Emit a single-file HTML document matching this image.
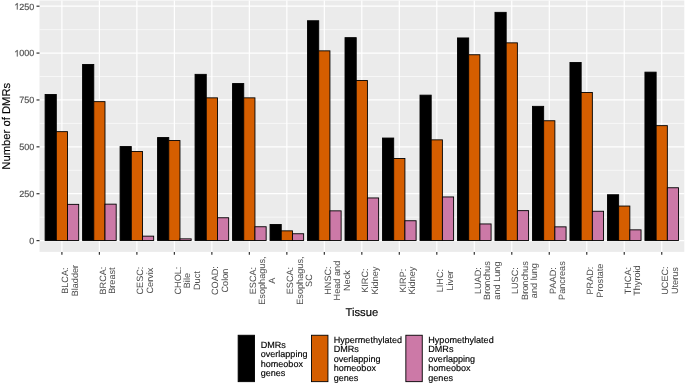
<!DOCTYPE html><html><head><meta charset="utf-8"><style>html,body{margin:0;padding:0;background:#fff;}svg{display:block;will-change:transform;}text{font-family:"Liberation Sans",sans-serif;stroke-width:0.15;text-rendering:geometricPrecision;}</style></head><body>
<svg width="685" height="384" viewBox="0 0 685 384">
<rect x="0" y="0" width="685" height="384" fill="#ffffff"/>
<rect x="39.5" y="0.5" width="644.8" height="251.4" fill="#EBEBEB"/>
<line x1="39.5" x2="684.3" y1="217.16" y2="217.16" stroke="#fff" stroke-width="0.6"/>
<line x1="39.5" x2="684.3" y1="170.28" y2="170.28" stroke="#fff" stroke-width="0.6"/>
<line x1="39.5" x2="684.3" y1="123.4" y2="123.4" stroke="#fff" stroke-width="0.6"/>
<line x1="39.5" x2="684.3" y1="76.52" y2="76.52" stroke="#fff" stroke-width="0.6"/>
<line x1="39.5" x2="684.3" y1="29.64" y2="29.64" stroke="#fff" stroke-width="0.6"/>
<line x1="39.5" x2="684.3" y1="240.6" y2="240.6" stroke="#fff" stroke-width="1.2"/>
<line x1="39.5" x2="684.3" y1="193.72" y2="193.72" stroke="#fff" stroke-width="1.2"/>
<line x1="39.5" x2="684.3" y1="146.84" y2="146.84" stroke="#fff" stroke-width="1.2"/>
<line x1="39.5" x2="684.3" y1="99.96" y2="99.96" stroke="#fff" stroke-width="1.2"/>
<line x1="39.5" x2="684.3" y1="53.08" y2="53.08" stroke="#fff" stroke-width="1.2"/>
<line x1="39.5" x2="684.3" y1="6.2" y2="6.2" stroke="#fff" stroke-width="1.2"/>
<line x1="61.9" x2="61.9" y1="0.5" y2="251.9" stroke="#fff" stroke-width="1.2"/>
<line x1="99.39" x2="99.39" y1="0.5" y2="251.9" stroke="#fff" stroke-width="1.2"/>
<line x1="136.88" x2="136.88" y1="0.5" y2="251.9" stroke="#fff" stroke-width="1.2"/>
<line x1="174.37" x2="174.37" y1="0.5" y2="251.9" stroke="#fff" stroke-width="1.2"/>
<line x1="211.86" x2="211.86" y1="0.5" y2="251.9" stroke="#fff" stroke-width="1.2"/>
<line x1="249.35" x2="249.35" y1="0.5" y2="251.9" stroke="#fff" stroke-width="1.2"/>
<line x1="286.84" x2="286.84" y1="0.5" y2="251.9" stroke="#fff" stroke-width="1.2"/>
<line x1="324.33" x2="324.33" y1="0.5" y2="251.9" stroke="#fff" stroke-width="1.2"/>
<line x1="361.82" x2="361.82" y1="0.5" y2="251.9" stroke="#fff" stroke-width="1.2"/>
<line x1="399.31" x2="399.31" y1="0.5" y2="251.9" stroke="#fff" stroke-width="1.2"/>
<line x1="436.8" x2="436.8" y1="0.5" y2="251.9" stroke="#fff" stroke-width="1.2"/>
<line x1="474.29" x2="474.29" y1="0.5" y2="251.9" stroke="#fff" stroke-width="1.2"/>
<line x1="511.78" x2="511.78" y1="0.5" y2="251.9" stroke="#fff" stroke-width="1.2"/>
<line x1="549.27" x2="549.27" y1="0.5" y2="251.9" stroke="#fff" stroke-width="1.2"/>
<line x1="586.76" x2="586.76" y1="0.5" y2="251.9" stroke="#fff" stroke-width="1.2"/>
<line x1="624.25" x2="624.25" y1="0.5" y2="251.9" stroke="#fff" stroke-width="1.2"/>
<line x1="661.74" x2="661.74" y1="0.5" y2="251.9" stroke="#fff" stroke-width="1.2"/>
<rect x="45.1" y="94.45" width="11.2" height="146" fill="#000000" stroke="#000000" stroke-width="0.9"/>
<rect x="56.3" y="131.65" width="11.2" height="108.8" fill="#D55E00" stroke="#000000" stroke-width="0.9"/>
<rect x="67.5" y="204.35" width="11.2" height="36.1" fill="#CC79A7" stroke="#000000" stroke-width="0.9"/>
<rect x="82.59" y="64.45" width="11.2" height="176" fill="#000000" stroke="#000000" stroke-width="0.9"/>
<rect x="93.79" y="101.65" width="11.2" height="138.8" fill="#D55E00" stroke="#000000" stroke-width="0.9"/>
<rect x="104.99" y="204.15" width="11.2" height="36.3" fill="#CC79A7" stroke="#000000" stroke-width="0.9"/>
<rect x="120.08" y="146.55" width="11.2" height="93.9" fill="#000000" stroke="#000000" stroke-width="0.9"/>
<rect x="131.28" y="151.45" width="11.2" height="89" fill="#D55E00" stroke="#000000" stroke-width="0.9"/>
<rect x="142.48" y="236.15" width="11.2" height="4.3" fill="#CC79A7" stroke="#000000" stroke-width="0.9"/>
<rect x="157.57" y="137.55" width="11.2" height="102.9" fill="#000000" stroke="#000000" stroke-width="0.9"/>
<rect x="168.77" y="140.55" width="11.2" height="99.9" fill="#D55E00" stroke="#000000" stroke-width="0.9"/>
<rect x="179.97" y="238.85" width="11.2" height="1.6" fill="#CC79A7" stroke="#000000" stroke-width="0.9"/>
<rect x="195.06" y="74.35" width="11.2" height="166.1" fill="#000000" stroke="#000000" stroke-width="0.9"/>
<rect x="206.26" y="97.85" width="11.2" height="142.6" fill="#D55E00" stroke="#000000" stroke-width="0.9"/>
<rect x="217.46" y="217.75" width="11.2" height="22.7" fill="#CC79A7" stroke="#000000" stroke-width="0.9"/>
<rect x="232.55" y="83.55" width="11.2" height="156.9" fill="#000000" stroke="#000000" stroke-width="0.9"/>
<rect x="243.75" y="97.85" width="11.2" height="142.6" fill="#D55E00" stroke="#000000" stroke-width="0.9"/>
<rect x="254.95" y="226.75" width="11.2" height="13.7" fill="#CC79A7" stroke="#000000" stroke-width="0.9"/>
<rect x="270.04" y="224.45" width="11.2" height="16" fill="#000000" stroke="#000000" stroke-width="0.9"/>
<rect x="281.24" y="230.85" width="11.2" height="9.6" fill="#D55E00" stroke="#000000" stroke-width="0.9"/>
<rect x="292.44" y="233.75" width="11.2" height="6.7" fill="#CC79A7" stroke="#000000" stroke-width="0.9"/>
<rect x="307.53" y="20.75" width="11.2" height="219.7" fill="#000000" stroke="#000000" stroke-width="0.9"/>
<rect x="318.73" y="50.85" width="11.2" height="189.6" fill="#D55E00" stroke="#000000" stroke-width="0.9"/>
<rect x="329.93" y="210.85" width="11.2" height="29.6" fill="#CC79A7" stroke="#000000" stroke-width="0.9"/>
<rect x="345.02" y="37.65" width="11.2" height="202.8" fill="#000000" stroke="#000000" stroke-width="0.9"/>
<rect x="356.22" y="80.55" width="11.2" height="159.9" fill="#D55E00" stroke="#000000" stroke-width="0.9"/>
<rect x="367.42" y="197.95" width="11.2" height="42.5" fill="#CC79A7" stroke="#000000" stroke-width="0.9"/>
<rect x="382.51" y="138.05" width="11.2" height="102.4" fill="#000000" stroke="#000000" stroke-width="0.9"/>
<rect x="393.71" y="158.45" width="11.2" height="82" fill="#D55E00" stroke="#000000" stroke-width="0.9"/>
<rect x="404.91" y="220.75" width="11.2" height="19.7" fill="#CC79A7" stroke="#000000" stroke-width="0.9"/>
<rect x="420" y="95.15" width="11.2" height="145.3" fill="#000000" stroke="#000000" stroke-width="0.9"/>
<rect x="431.2" y="139.85" width="11.2" height="100.6" fill="#D55E00" stroke="#000000" stroke-width="0.9"/>
<rect x="442.4" y="196.95" width="11.2" height="43.5" fill="#CC79A7" stroke="#000000" stroke-width="0.9"/>
<rect x="457.49" y="37.95" width="11.2" height="202.5" fill="#000000" stroke="#000000" stroke-width="0.9"/>
<rect x="468.69" y="54.75" width="11.2" height="185.7" fill="#D55E00" stroke="#000000" stroke-width="0.9"/>
<rect x="479.89" y="223.95" width="11.2" height="16.5" fill="#CC79A7" stroke="#000000" stroke-width="0.9"/>
<rect x="494.98" y="12.35" width="11.2" height="228.1" fill="#000000" stroke="#000000" stroke-width="0.9"/>
<rect x="506.18" y="42.85" width="11.2" height="197.6" fill="#D55E00" stroke="#000000" stroke-width="0.9"/>
<rect x="517.38" y="210.65" width="11.2" height="29.8" fill="#CC79A7" stroke="#000000" stroke-width="0.9"/>
<rect x="532.47" y="106.35" width="11.2" height="134.1" fill="#000000" stroke="#000000" stroke-width="0.9"/>
<rect x="543.67" y="120.75" width="11.2" height="119.7" fill="#D55E00" stroke="#000000" stroke-width="0.9"/>
<rect x="554.87" y="226.85" width="11.2" height="13.6" fill="#CC79A7" stroke="#000000" stroke-width="0.9"/>
<rect x="569.96" y="62.45" width="11.2" height="178" fill="#000000" stroke="#000000" stroke-width="0.9"/>
<rect x="581.16" y="92.45" width="11.2" height="148" fill="#D55E00" stroke="#000000" stroke-width="0.9"/>
<rect x="592.36" y="211.25" width="11.2" height="29.2" fill="#CC79A7" stroke="#000000" stroke-width="0.9"/>
<rect x="607.45" y="194.75" width="11.2" height="45.7" fill="#000000" stroke="#000000" stroke-width="0.9"/>
<rect x="618.65" y="206.05" width="11.2" height="34.4" fill="#D55E00" stroke="#000000" stroke-width="0.9"/>
<rect x="629.85" y="229.85" width="11.2" height="10.6" fill="#CC79A7" stroke="#000000" stroke-width="0.9"/>
<rect x="644.94" y="72.15" width="11.2" height="168.3" fill="#000000" stroke="#000000" stroke-width="0.9"/>
<rect x="656.14" y="125.65" width="11.2" height="114.8" fill="#D55E00" stroke="#000000" stroke-width="0.9"/>
<rect x="667.34" y="187.75" width="11.2" height="52.7" fill="#CC79A7" stroke="#000000" stroke-width="0.9"/>
<line x1="36.5" x2="39.5" y1="240.6" y2="240.6" stroke="#333333" stroke-width="1.2"/>
<text x="34.3" y="243.9" font-size="9.0" fill="#4D4D4D" stroke="#4D4D4D" text-anchor="end">0</text>
<line x1="36.5" x2="39.5" y1="193.72" y2="193.72" stroke="#333333" stroke-width="1.2"/>
<text x="34.3" y="197.02" font-size="9.0" fill="#4D4D4D" stroke="#4D4D4D" text-anchor="end">250</text>
<line x1="36.5" x2="39.5" y1="146.84" y2="146.84" stroke="#333333" stroke-width="1.2"/>
<text x="34.3" y="150.14" font-size="9.0" fill="#4D4D4D" stroke="#4D4D4D" text-anchor="end">500</text>
<line x1="36.5" x2="39.5" y1="99.96" y2="99.96" stroke="#333333" stroke-width="1.2"/>
<text x="34.3" y="103.26" font-size="9.0" fill="#4D4D4D" stroke="#4D4D4D" text-anchor="end">750</text>
<line x1="36.5" x2="39.5" y1="53.08" y2="53.08" stroke="#333333" stroke-width="1.2"/>
<path d="M17.64,56.38 L16.85,56.38 L16.85,51.34 L15.26,52.38 L15.26,51.62 L17.1,49.94 L17.64,49.94Z" fill="#4D4D4D" stroke="#4D4D4D" stroke-width="0.15"/>
<text x="34.3" y="56.38" font-size="9.0" fill="#4D4D4D" stroke="#4D4D4D" text-anchor="end">000</text>
<line x1="36.5" x2="39.5" y1="6.2" y2="6.2" stroke="#333333" stroke-width="1.2"/>
<path d="M17.64,9.5 L16.85,9.5 L16.85,4.46 L15.26,5.5 L15.26,4.74 L17.1,3.06 L17.64,3.06Z" fill="#4D4D4D" stroke="#4D4D4D" stroke-width="0.15"/>
<text x="34.3" y="9.5" font-size="9.0" fill="#4D4D4D" stroke="#4D4D4D" text-anchor="end">250</text>
<line x1="61.9" x2="61.9" y1="251.9" y2="254.7" stroke="#333333" stroke-width="1.2"/>
<text transform="translate(68.2,280.6) rotate(-90) scale(0.1)" font-size="91.5" fill="#4D4D4D" stroke="#4D4D4D" stroke-width="2.5" text-anchor="middle">BLCA:</text>
<text transform="translate(77.7,280.6) rotate(-90) scale(0.1)" font-size="91.5" fill="#4D4D4D" stroke="#4D4D4D" stroke-width="2.5" text-anchor="middle">Bladder</text>
<line x1="99.39" x2="99.39" y1="251.9" y2="254.7" stroke="#333333" stroke-width="1.2"/>
<text transform="translate(105.69,280.6) rotate(-90) scale(0.1)" font-size="91.5" fill="#4D4D4D" stroke="#4D4D4D" stroke-width="2.5" text-anchor="middle">BRCA:</text>
<text transform="translate(115.19,280.6) rotate(-90) scale(0.1)" font-size="91.5" fill="#4D4D4D" stroke="#4D4D4D" stroke-width="2.5" text-anchor="middle">Breast</text>
<line x1="136.88" x2="136.88" y1="251.9" y2="254.7" stroke="#333333" stroke-width="1.2"/>
<text transform="translate(143.18,280.6) rotate(-90) scale(0.1)" font-size="91.5" fill="#4D4D4D" stroke="#4D4D4D" stroke-width="2.5" text-anchor="middle">CESC:</text>
<text transform="translate(152.68,280.6) rotate(-90) scale(0.1)" font-size="91.5" fill="#4D4D4D" stroke="#4D4D4D" stroke-width="2.5" text-anchor="middle">Cervix</text>
<line x1="174.37" x2="174.37" y1="251.9" y2="254.7" stroke="#333333" stroke-width="1.2"/>
<text transform="translate(180.67,280.6) rotate(-90) scale(0.1)" font-size="91.5" fill="#4D4D4D" stroke="#4D4D4D" stroke-width="2.5" text-anchor="middle">CHOL:</text>
<text transform="translate(190.17,280.6) rotate(-90) scale(0.1)" font-size="91.5" fill="#4D4D4D" stroke="#4D4D4D" stroke-width="2.5" text-anchor="middle">Bile</text>
<text transform="translate(199.67,280.6) rotate(-90) scale(0.1)" font-size="91.5" fill="#4D4D4D" stroke="#4D4D4D" stroke-width="2.5" text-anchor="middle">Duct</text>
<line x1="211.86" x2="211.86" y1="251.9" y2="254.7" stroke="#333333" stroke-width="1.2"/>
<text transform="translate(218.16,280.6) rotate(-90) scale(0.1)" font-size="91.5" fill="#4D4D4D" stroke="#4D4D4D" stroke-width="2.5" text-anchor="middle">COAD:</text>
<text transform="translate(227.66,280.6) rotate(-90) scale(0.1)" font-size="91.5" fill="#4D4D4D" stroke="#4D4D4D" stroke-width="2.5" text-anchor="middle">Colon</text>
<line x1="249.35" x2="249.35" y1="251.9" y2="254.7" stroke="#333333" stroke-width="1.2"/>
<text transform="translate(255.65,280.6) rotate(-90) scale(0.1)" font-size="91.5" fill="#4D4D4D" stroke="#4D4D4D" stroke-width="2.5" text-anchor="middle">ESCA:</text>
<text transform="translate(265.15,280.6) rotate(-90) scale(0.1)" font-size="91.5" fill="#4D4D4D" stroke="#4D4D4D" stroke-width="2.5" text-anchor="middle">Esophagus,</text>
<text transform="translate(274.65,280.6) rotate(-90) scale(0.1)" font-size="91.5" fill="#4D4D4D" stroke="#4D4D4D" stroke-width="2.5" text-anchor="middle">A</text>
<line x1="286.84" x2="286.84" y1="251.9" y2="254.7" stroke="#333333" stroke-width="1.2"/>
<text transform="translate(293.14,280.6) rotate(-90) scale(0.1)" font-size="91.5" fill="#4D4D4D" stroke="#4D4D4D" stroke-width="2.5" text-anchor="middle">ESCA:</text>
<text transform="translate(302.64,280.6) rotate(-90) scale(0.1)" font-size="91.5" fill="#4D4D4D" stroke="#4D4D4D" stroke-width="2.5" text-anchor="middle">Esophagus,</text>
<text transform="translate(312.14,280.6) rotate(-90) scale(0.1)" font-size="91.5" fill="#4D4D4D" stroke="#4D4D4D" stroke-width="2.5" text-anchor="middle">SC</text>
<line x1="324.33" x2="324.33" y1="251.9" y2="254.7" stroke="#333333" stroke-width="1.2"/>
<text transform="translate(330.63,280.6) rotate(-90) scale(0.1)" font-size="91.5" fill="#4D4D4D" stroke="#4D4D4D" stroke-width="2.5" text-anchor="middle">HNSC:</text>
<text transform="translate(340.13,280.6) rotate(-90) scale(0.1)" font-size="91.5" fill="#4D4D4D" stroke="#4D4D4D" stroke-width="2.5" text-anchor="middle">Head and</text>
<text transform="translate(349.63,280.6) rotate(-90) scale(0.1)" font-size="91.5" fill="#4D4D4D" stroke="#4D4D4D" stroke-width="2.5" text-anchor="middle">Neck</text>
<line x1="361.82" x2="361.82" y1="251.9" y2="254.7" stroke="#333333" stroke-width="1.2"/>
<text transform="translate(368.12,280.6) rotate(-90) scale(0.1)" font-size="91.5" fill="#4D4D4D" stroke="#4D4D4D" stroke-width="2.5" text-anchor="middle">KIRC:</text>
<text transform="translate(377.62,280.6) rotate(-90) scale(0.1)" font-size="91.5" fill="#4D4D4D" stroke="#4D4D4D" stroke-width="2.5" text-anchor="middle">Kidney</text>
<line x1="399.31" x2="399.31" y1="251.9" y2="254.7" stroke="#333333" stroke-width="1.2"/>
<text transform="translate(405.61,280.6) rotate(-90) scale(0.1)" font-size="91.5" fill="#4D4D4D" stroke="#4D4D4D" stroke-width="2.5" text-anchor="middle">KIRP:</text>
<text transform="translate(415.11,280.6) rotate(-90) scale(0.1)" font-size="91.5" fill="#4D4D4D" stroke="#4D4D4D" stroke-width="2.5" text-anchor="middle">Kidney</text>
<line x1="436.8" x2="436.8" y1="251.9" y2="254.7" stroke="#333333" stroke-width="1.2"/>
<text transform="translate(443.1,280.6) rotate(-90) scale(0.1)" font-size="91.5" fill="#4D4D4D" stroke="#4D4D4D" stroke-width="2.5" text-anchor="middle">LIHC:</text>
<text transform="translate(452.6,280.6) rotate(-90) scale(0.1)" font-size="91.5" fill="#4D4D4D" stroke="#4D4D4D" stroke-width="2.5" text-anchor="middle">Liver</text>
<line x1="474.29" x2="474.29" y1="251.9" y2="254.7" stroke="#333333" stroke-width="1.2"/>
<text transform="translate(480.59,280.6) rotate(-90) scale(0.1)" font-size="91.5" fill="#4D4D4D" stroke="#4D4D4D" stroke-width="2.5" text-anchor="middle">LUAD:</text>
<text transform="translate(490.09,280.6) rotate(-90) scale(0.1)" font-size="91.5" fill="#4D4D4D" stroke="#4D4D4D" stroke-width="2.5" text-anchor="middle">Bronchus</text>
<text transform="translate(499.59,280.6) rotate(-90) scale(0.1)" font-size="91.5" fill="#4D4D4D" stroke="#4D4D4D" stroke-width="2.5" text-anchor="middle">and Lung</text>
<line x1="511.78" x2="511.78" y1="251.9" y2="254.7" stroke="#333333" stroke-width="1.2"/>
<text transform="translate(518.08,280.6) rotate(-90) scale(0.1)" font-size="91.5" fill="#4D4D4D" stroke="#4D4D4D" stroke-width="2.5" text-anchor="middle">LUSC:</text>
<text transform="translate(527.58,280.6) rotate(-90) scale(0.1)" font-size="91.5" fill="#4D4D4D" stroke="#4D4D4D" stroke-width="2.5" text-anchor="middle">Bronchus</text>
<text transform="translate(537.08,280.6) rotate(-90) scale(0.1)" font-size="91.5" fill="#4D4D4D" stroke="#4D4D4D" stroke-width="2.5" text-anchor="middle">and lung</text>
<line x1="549.27" x2="549.27" y1="251.9" y2="254.7" stroke="#333333" stroke-width="1.2"/>
<text transform="translate(555.57,280.6) rotate(-90) scale(0.1)" font-size="91.5" fill="#4D4D4D" stroke="#4D4D4D" stroke-width="2.5" text-anchor="middle">PAAD:</text>
<text transform="translate(565.07,280.6) rotate(-90) scale(0.1)" font-size="91.5" fill="#4D4D4D" stroke="#4D4D4D" stroke-width="2.5" text-anchor="middle">Pancreas</text>
<line x1="586.76" x2="586.76" y1="251.9" y2="254.7" stroke="#333333" stroke-width="1.2"/>
<text transform="translate(593.06,280.6) rotate(-90) scale(0.1)" font-size="91.5" fill="#4D4D4D" stroke="#4D4D4D" stroke-width="2.5" text-anchor="middle">PRAD:</text>
<text transform="translate(602.56,280.6) rotate(-90) scale(0.1)" font-size="91.5" fill="#4D4D4D" stroke="#4D4D4D" stroke-width="2.5" text-anchor="middle">Prostate</text>
<line x1="624.25" x2="624.25" y1="251.9" y2="254.7" stroke="#333333" stroke-width="1.2"/>
<text transform="translate(630.55,280.6) rotate(-90) scale(0.1)" font-size="91.5" fill="#4D4D4D" stroke="#4D4D4D" stroke-width="2.5" text-anchor="middle">THCA:</text>
<text transform="translate(640.05,280.6) rotate(-90) scale(0.1)" font-size="91.5" fill="#4D4D4D" stroke="#4D4D4D" stroke-width="2.5" text-anchor="middle">Thyroid</text>
<line x1="661.74" x2="661.74" y1="251.9" y2="254.7" stroke="#333333" stroke-width="1.2"/>
<text transform="translate(668.04,280.6) rotate(-90) scale(0.1)" font-size="91.5" fill="#4D4D4D" stroke="#4D4D4D" stroke-width="2.5" text-anchor="middle">UCEC:</text>
<text transform="translate(677.54,280.6) rotate(-90) scale(0.1)" font-size="91.5" fill="#4D4D4D" stroke="#4D4D4D" stroke-width="2.5" text-anchor="middle">Uterus</text>
<text x="361.9" y="315.6" font-size="11.25" fill="#000" stroke="#000" text-anchor="middle">Tissue</text>
<text transform="translate(9.5,126.25) rotate(-90)" font-size="11.25" fill="#000" stroke="#000" text-anchor="middle">Number of DMRs</text>
<rect x="238.15" y="335.25" width="16.4" height="46.4" fill="#000000" stroke="#000000" stroke-width="0.9"/>
<text x="260.7" y="347.58" font-size="9.05" fill="#000" stroke="#000">DMRs</text>
<text x="260.7" y="357.06" font-size="9.05" fill="#000" stroke="#000">overlapping</text>
<text x="260.7" y="366.54" font-size="9.05" fill="#000" stroke="#000">homeobox</text>
<text x="260.7" y="376.02" font-size="9.05" fill="#000" stroke="#000">genes</text>
<rect x="311.55" y="335.25" width="16.4" height="46.4" fill="#D55E00" stroke="#000000" stroke-width="0.9"/>
<text x="333.7" y="342.84" font-size="9.05" fill="#000" stroke="#000">Hypermethylated</text>
<text x="333.7" y="352.32" font-size="9.05" fill="#000" stroke="#000">DMRs</text>
<text x="333.7" y="361.8" font-size="9.05" fill="#000" stroke="#000">overlapping</text>
<text x="333.7" y="371.28" font-size="9.05" fill="#000" stroke="#000">homeobox</text>
<text x="333.7" y="380.76" font-size="9.05" fill="#000" stroke="#000">genes</text>
<rect x="405.85" y="335.25" width="16.4" height="46.4" fill="#CC79A7" stroke="#000000" stroke-width="0.9"/>
<text x="428.3" y="342.84" font-size="9.05" fill="#000" stroke="#000">Hypomethylated</text>
<text x="428.3" y="352.32" font-size="9.05" fill="#000" stroke="#000">DMRs</text>
<text x="428.3" y="361.8" font-size="9.05" fill="#000" stroke="#000">overlapping</text>
<text x="428.3" y="371.28" font-size="9.05" fill="#000" stroke="#000">homeobox</text>
<text x="428.3" y="380.76" font-size="9.05" fill="#000" stroke="#000">genes</text>
</svg></body></html>
